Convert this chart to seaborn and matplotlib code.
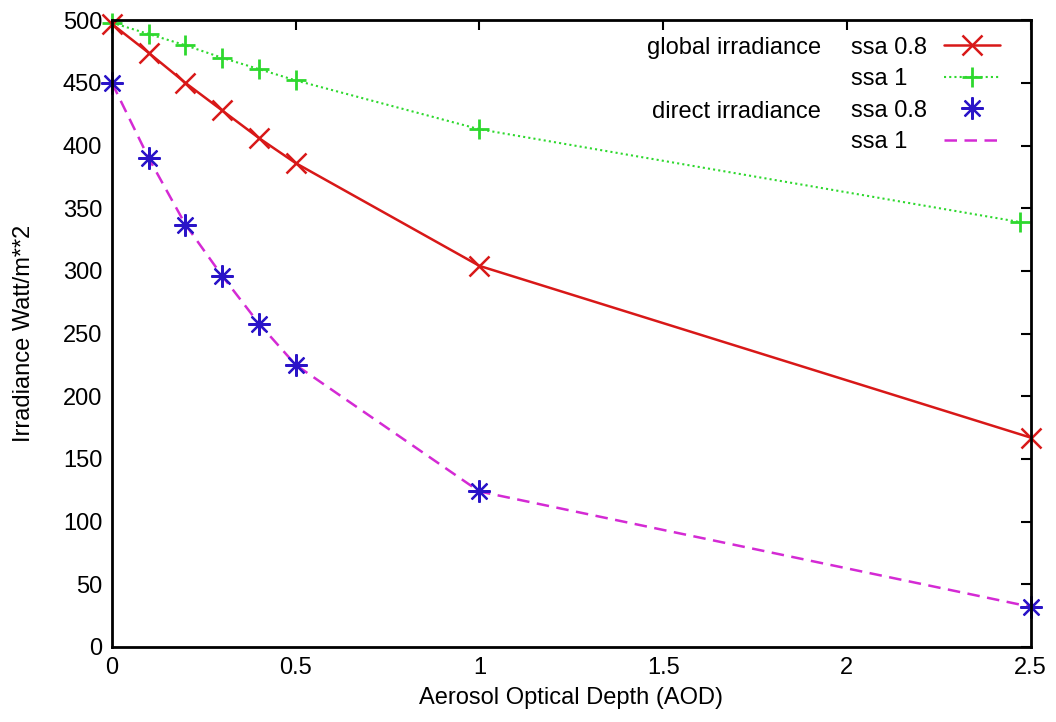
import numpy as np
import pandas as pd
import matplotlib
matplotlib.use("Agg")
import matplotlib.pyplot as plt
import seaborn as sns
from matplotlib.lines import Line2D
from matplotlib.ticker import FormatStrFormatter

# Values
aod = [0, 0.1, 0.2, 0.3, 0.4, 0.5, 1.0, 2.5]
aod_green = [0, 0.1, 0.2, 0.3, 0.4, 0.5, 1.0, 2.47]
global_ssa08 = [497, 474, 450, 428, 406, 386, 304, 167]
global_ssa1 = [498, 489, 480, 470, 461, 452, 413, 339]
direct_ssa08 = [450, 390, 337, 296, 258, 225, 124, 32]
direct_ssa1 = [450, 390, 337, 296, 258, 225, 124, 32]

red = "#d81818"
green = "#2ed82e"
blue = "#2a14c8"
magenta = "#d42ad4"

sns.set_theme(style="white")
plt.rcParams['font.family'] = ['Liberation Sans', 'DejaVu Sans']
plt.rcParams['text.color'] = 'black'
plt.rcParams['axes.labelcolor'] = 'black'
fs = 17

fig, ax = plt.subplots(figsize=(10.56, 7.22), dpi=100)
fig.subplots_adjust(left=0.106, right=0.976, top=0.972, bottom=0.104)

green_style = dict(color=green, lw=1.5, linestyle=(0, (1, 1.5)), marker="+",
                   markersize=14, mew=2, mec=green)
red_style = dict(color=red, lw=1.8, marker="x", markersize=15, mew=1.8, mec=red)
mag_style = dict(color=magenta, lw=1.8, linestyle=(0, (5, 3)))
blue_style = dict(color=blue, lw=0, marker=(8, 2, 0), markersize=16, mew=1.6, mec=blue)

# plotted so the red line sits above green, blue stars above magenta
sns.lineplot(x=aod_green, y=global_ssa1, ax=ax, clip_on=False, **green_style)
sns.lineplot(x=aod, y=global_ssa08, ax=ax, clip_on=False, **red_style)
sns.lineplot(x=aod, y=direct_ssa1, ax=ax, clip_on=False, **mag_style)
sns.lineplot(x=aod, y=direct_ssa08, ax=ax, clip_on=False, **blue_style)

ax.set_xlim(0, 2.5)
ax.set_ylim(0, 500)
ax.set_xticks([0, 0.5, 1, 1.5, 2, 2.5])
ax.set_yticks(np.arange(0, 501, 50))
ax.xaxis.set_major_formatter(FormatStrFormatter('%g'))
ax.tick_params(direction="in", length=7, width=1.5, top=True, right=True,
               labelsize=fs, colors="black", pad=7)
for s in ax.spines.values():
    s.set_color("black")
    s.set_linewidth(2)

ax.set_xlabel("Aerosol Optical Depth (AOD)", fontsize=fs, labelpad=6)
ax.set_ylabel("Irradiance Watt/m**2", fontsize=fs, labelpad=20)

handles = [Line2D([], [], **red_style), Line2D([], [], **green_style),
           Line2D([], [], **blue_style), Line2D([], [], **mag_style)]
labels = ["ssa 0.8", "ssa 1   ", "ssa 0.8", "ssa 1   "]
ax.legend(handles, labels, loc="upper right", bbox_to_anchor=(0.985, 1.0),
          frameon=False, markerfirst=False, fontsize=fs, handlelength=2.4,
          labelspacing=0.4, handletextpad=0.7, borderaxespad=0.3)

ax.text(0.772, 0.955, "global irradiance", transform=ax.transAxes,
        ha="right", va="center", fontsize=fs)
ax.text(0.772, 0.853, "direct irradiance", transform=ax.transAxes,
        ha="right", va="center", fontsize=fs)

fig.savefig("out.png", dpi=100)
